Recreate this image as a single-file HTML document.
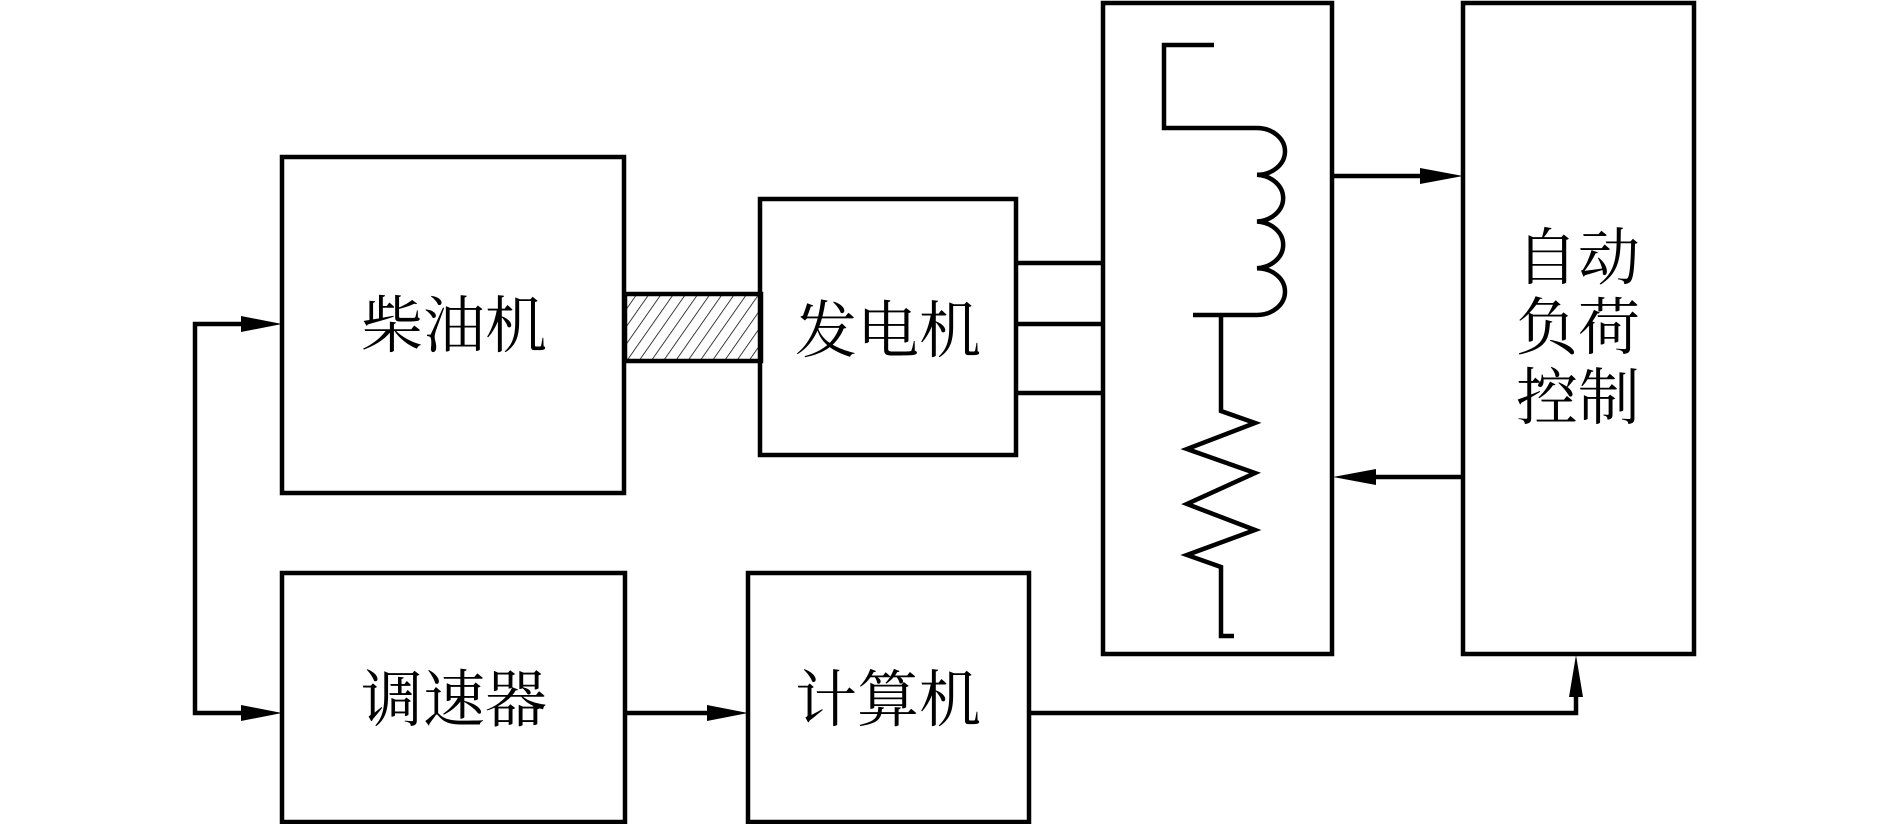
<!DOCTYPE html>
<html><head><meta charset="utf-8">
<style>
html,body{margin:0;padding:0;background:#fff;}
svg{display:block;}
text{font-family:"Liberation Serif","Noto Serif CJK SC",serif;font-size:62px;fill:#000;}
</style></head>
<body>
<svg width="1889" height="824" viewBox="0 0 1889 824" xmlns="http://www.w3.org/2000/svg">
<defs>
<pattern id="h" patternUnits="userSpaceOnUse" width="10" height="10" patternTransform="rotate(35)">
<line x1="0" y1="0" x2="0" y2="10" stroke="#000" stroke-width="1.5"/>
</pattern>
</defs>
<g fill="none" stroke="#000" stroke-width="4.5">
<rect x="282" y="157" width="342" height="336"/>
<rect x="625" y="294" width="136" height="67" fill="url(#h)"/>
<rect x="760" y="199" width="256" height="256"/>
<rect x="1103" y="3" width="229" height="651"/>
<rect x="1463" y="3" width="231" height="651"/>
<rect x="282" y="573" width="343" height="249"/>
<rect x="748" y="573" width="281" height="249"/>
<line x1="1016" y1="263" x2="1103" y2="263"/>
<line x1="1016" y1="324" x2="1103" y2="324"/>
<line x1="1016" y1="393" x2="1103" y2="393"/>
<line x1="1332" y1="176" x2="1425" y2="176"/>
<line x1="1463" y1="477" x2="1370" y2="477"/>
<polyline points="242,324 195,324 195,713 242,713"/>
<line x1="625" y1="713" x2="708" y2="713"/>
<polyline points="1029,713 1576,713 1576,695"/>
<polyline points="1214,45 1164,45 1164,128 1257,128"/>
<path d="M1257,128 A28,23.4 0 0 1 1257,174.8 A28,23.4 0 0 1 1257,221.5 A28,23.4 0 0 1 1257,268.2 A28,23.4 0 0 1 1257,315 L1193,315"/>
<polyline points="1221,315 1221,411 1255,423 1187,449 1255,473 1187,504 1255,530 1187,555 1221,567 1221,636 1234,636"/>
</g>
<g fill="#000">
<polygon points="282,324 241,316 241,332"/>
<polygon points="282,713 241,705 241,721"/>
<polygon points="748,713 707,705 707,721"/>
<polygon points="1463,176 1420,168 1420,184"/>
<polygon points="1333,477 1376,469 1376,485"/>
<polygon points="1576,655 1569,697 1583,697"/>
</g>
<text x="454" y="347" text-anchor="middle">柴油机</text>
<text x="888" y="352" text-anchor="middle">发电机</text>
<text x="454" y="721" text-anchor="middle">调速器</text>
<text x="888" y="721" text-anchor="middle">计算机</text>
<text x="1578" y="279" text-anchor="middle">自动</text>
<text x="1578" y="349" text-anchor="middle">负荷</text>
<text x="1578" y="419" text-anchor="middle">控制</text>
</svg>
</body></html>
